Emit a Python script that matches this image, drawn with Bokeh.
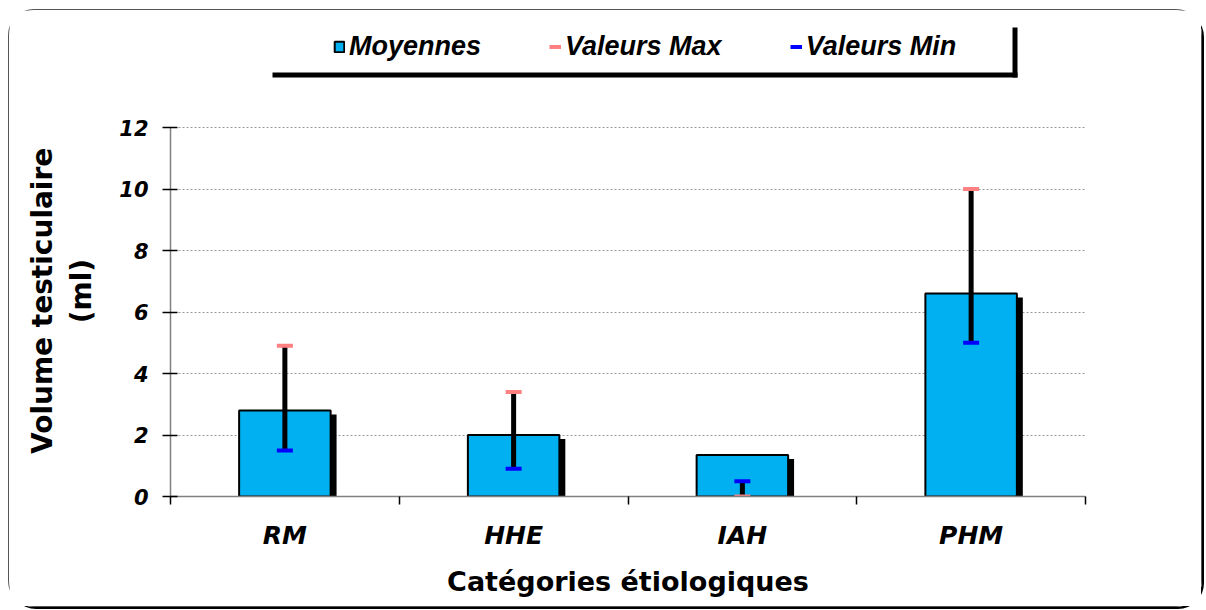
import numpy as np
from bokeh.plotting import figure
from bokeh.models import (FixedTicker, Legend, LegendItem, BoxAnnotation, Range1d)
from bokeh.embed import file_html
from bokeh.resources import INLINE

# ---- data ----
categories = ["RM", "HHE", "IAH", "PHM"]
moyennes = [2.8, 2.0, 1.35, 6.6]
val_max = [4.9, 3.4, 0.0, 10.0]
val_min = [1.5, 0.9, 0.5, 5.0]
y_ticks = [0, 2, 4, 6, 8, 10, 12]

x_title = "Catégories étiologiques"
y_title_lines = ["Volume testiculaire", "(ml)"]
legend_labels = ["Moyennes", "Valeurs Max", "Valeurs Min"]

BAR = "#00B0F0"
MAXC = "#FF8080"
MINC = "#0000FF"

n = len(categories)
xc = np.arange(n) + 0.5
mo = np.array(moyennes)
mx = np.array(val_max)
mn = np.array(val_min)

# layout (pixels)
W, H = 1194, 598
FRAME_TOP_PAD = 7
frame_h = H - FRAME_TOP_PAD - 112          # 479 px
axis_h = 369                                # px from 0 to 12
y_top = 12 * frame_h / axis_h

p = figure(width=W, height=H, output_backend="svg", toolbar_location=None,
           x_range=Range1d(0, n), y_range=Range1d(0, y_top),
           min_border_left=161, min_border_right=118, min_border_top=FRAME_TOP_PAD,
           min_border_bottom=112)
p.styles = {"border": "1px solid #555", "border-radius": "26px",
            "box-shadow": "2px 2px 0 0 #000", "margin": "9px 0 0 8px"}
p.outline_line_color = None
p.background_fill_color = "white"
p.border_fill_color = "white"

# shadow of bars
dx, dy = 0.026, 0.13
p.quad(left=xc - 0.2 + dx, right=xc + 0.2 + dx, top=mo - dy, bottom=-0.2,
       fill_color="black", line_color=None)
bars = p.vbar(x=xc, width=0.4, top=mo, bottom=0, fill_color=BAR,
              line_color="black", line_width=2)
p.segment(x0=xc, x1=xc, y0=mn, y1=mx, line_color="black", line_width=5)
cap = 0.035
rmax = p.segment(x0=xc - cap, x1=xc + cap, y0=mx, y1=mx, line_color=MAXC, line_width=4)
rmin = p.segment(x0=xc - cap, x1=xc + cap, y0=mn, y1=mn, line_color=MINC, line_width=4)

# axes
ax = p.xaxis[0]
ax.ticker = FixedTicker(ticks=list(xc), minor_ticks=list(np.arange(n + 1)))
ax.major_label_overrides = {float(x): c for x, c in zip(xc, categories)}
ax.major_tick_in = 0
ax.major_tick_out = 0
ax.minor_tick_in = 0
ax.minor_tick_out = 8
ax.minor_tick_line_color = "black"
ax.minor_tick_line_width = 1.5
ax.axis_line_color = "#808080"
ax.axis_line_width = 1.5
ax.major_label_text_font = "DejaVu Sans"
ax.major_label_text_font_style = "bold italic"
ax.major_label_text_font_size = "25px"
ax.major_label_text_color = "black"
ax.major_label_standoff = 16
ax.axis_label = x_title
ax.axis_label_text_font = "DejaVu Sans"
ax.axis_label_text_font_style = "bold"
ax.axis_label_text_font_size = "27px"
ax.axis_label_text_color = "black"
ax.axis_label_standoff = 13

ay = p.yaxis[0]
ay.ticker = FixedTicker(ticks=y_ticks, minor_ticks=[])
ay.bounds = (0, 12)
ay.major_tick_in = 7
ay.major_tick_out = 8
ay.major_tick_line_color = "black"
ay.major_tick_line_width = 1.5
ay.axis_line_color = "#808080"
ay.axis_line_width = 1.5
ay.major_label_text_font = "DejaVu Sans"
ay.major_label_text_font_style = "bold italic"
ay.major_label_text_font_size = "21px"
ay.major_label_text_color = "black"
ay.major_label_standoff = 14
# trailing no-break spaces shift the centred label down to the 0-12 part of the axis
NB = "\u00a0"
ay.axis_label = y_title_lines[0] + NB * 9 + "\n" + y_title_lines[1] + NB * 7
ay.axis_label_text_font = "DejaVu Sans"
ay.axis_label_text_font_style = "bold"
ay.axis_label_text_font_size = "28px"
ay.axis_label_text_color = "black"
ay.axis_label_standoff = 18

p.xgrid.grid_line_color = None
p.ygrid.grid_line_color = "#999999"
p.ygrid.grid_line_dash = "2 2"
p.ygrid.grid_line_width = 1

# legend shadow (screen units, relative to the frame's bottom-left)
p.add_layout(BoxAnnotation(left=102, right=847, bottom=419, top=424,
                           left_units="screen", right_units="screen",
                           top_units="screen", bottom_units="screen",
                           fill_color="black", fill_alpha=1, line_color=None))
p.add_layout(BoxAnnotation(left=842, right=847, bottom=419, top=469,
                           left_units="screen", right_units="screen",
                           top_units="screen", bottom_units="screen",
                           fill_color="black", fill_alpha=1, line_color=None))

legend = Legend(items=[LegendItem(label=legend_labels[0], renderers=[bars]),
                       LegendItem(label=legend_labels[1], renderers=[rmax]),
                       LegendItem(label=legend_labels[2], renderers=[rmin])],
                location=(163, 434), orientation="horizontal",
                border_line_color=None, background_fill_alpha=0,
                padding=0, margin=0, spacing=68, glyph_width=12, glyph_height=13,
                label_standoff=4, label_text_font="Liberation Sans",
                label_text_font_style="bold italic", label_text_font_size="27px",
                label_text_color="black")
p.add_layout(legend, "center")

open("out.html", "w").write(file_html(p, INLINE))
